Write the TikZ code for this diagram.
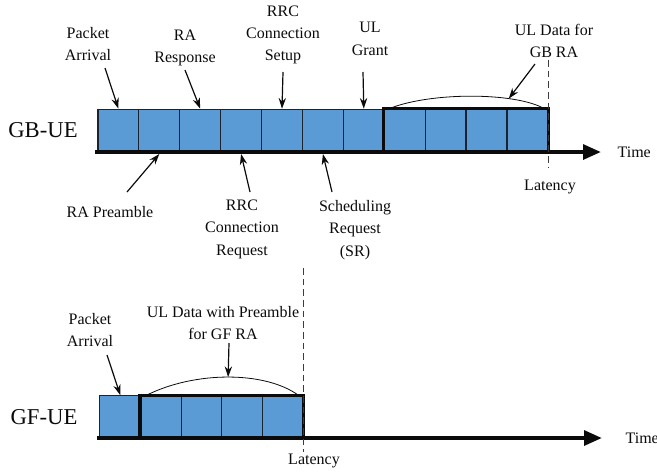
\documentclass[tikz,border=0pt]{standalone}
\usepackage{fontspec}
\setmainfont{Liberation Serif}
\usepackage{tikz}
\usetikzlibrary{arrows.meta,calc,positioning}
\definecolor{azulcaja}{HTML}{5B9BD5}
\definecolor{bordecaja}{HTML}{1A232E}
\definecolor{tinta}{HTML}{0B0B0B}
\tikzset{
  caja/.style={rectangle,draw=bordecaja,fill=azulcaja,line width=0.8pt,inner sep=0pt,minimum width=30.6pt,minimum height=31.2pt},
  marco/.style={draw=tinta,line width=2.3pt},
  eje/.style={draw=tinta,line width=3pt,-{Triangle[length=13.5pt,width=11pt]}},
  flecha/.style={draw=tinta,line width=0.9pt,-{Stealth[length=8pt,width=5.5pt]}},
  arco/.style={draw=tinta,line width=0.6pt},
  latencia/.style={draw=tinta!80,line width=0.6pt,dash pattern=on 5pt off 3pt},
  etiqueta/.style={align=center,inner sep=1pt,text=tinta,font=\fontsize{12}{16.8}\selectfont},
  equipo/.style={inner sep=0pt,text=tinta,font=\fontsize{17}{20}\selectfont},
}
\begin{document}
\begin{tikzpicture}[x=0.75pt,y=-0.75pt]
\useasboundingbox (0,0) rectangle (657,472);
% GB-UE
\node[equipo] (gbue) at (43,130) {GB-UE};
\node[caja] (b1) at (118.4,130) {};
\node[caja] (b2) at (159.3,130) {};
\node[caja] (b3) at (200.2,130) {};
\node[caja] (b4) at (241.1,130) {};
\node[caja] (b5) at (282.0,130) {};
\node[caja] (b6) at (322.9,130) {};
\node[caja] (b7) at (363.8,130) {};
\node[caja] (b8) at (404.7,130) {};
\node[caja] (b9) at (445.6,130) {};
\node[caja] (b10) at (486.5,130) {};
\node[caja] (b11) at (527.4,130) {};
\draw[marco] (b8.north west) rectangle (b11.south east);
\coordinate (ejeGB0) at (95,152);
\coordinate (ejeGB1) at (601,152);
\draw[eje] (ejeGB0) -- (ejeGB1);
\node[etiqueta,anchor=west] (tiempoGB) at (616,152) {Time};
\draw[arco] ([xshift=4pt]b8.north west) .. controls (430,92) and (515,92) .. ([xshift=-3pt]b11.north east) coordinate[pos=0.72] (arcoGB);
\coordinate (latGB0) at (548,60);
\coordinate (latGB1) at (548,167);
\draw[latencia] (latGB0) -- (latGB1);
\node[etiqueta] (latenciaGB) at (550,187) {Latency};
% etiquetas de arriba
\node[etiqueta] (llegadaGB) at (88,44) {Packet\\Arrival};
\node[etiqueta] (respuesta) at (185,48) {RA\\Response};
\node[etiqueta] (conexion) at (283,35) {RRC\\Connection\\Setup};
\node[etiqueta] (concesion) at (370,39) {UL\\Grant};
\node[etiqueta] (datosGB) at (554,41) {UL Data for\\GB RA};
\coordinate (cLlegadaGB) at (105,68);
\coordinate (cRespuesta) at (185,70);
\coordinate (cConexion) at (283,72);
\coordinate (cConcesion) at (363,72);
\coordinate (cDatosGB) at (535,64);
\draw[flecha] (cLlegadaGB) -- (b1.north);
\draw[flecha] (cRespuesta) -- (b3.north);
\draw[flecha] (cConexion) -- (b5.north);
\draw[flecha] (cConcesion) -- (b7.north);
\draw[flecha] (cDatosGB) -- (arcoGB);
% etiquetas de abajo
\node[etiqueta] (preambulo) at (110,212) {RA Preamble};
\node[etiqueta] (solicitud) at (242,229) {RRC\\Connection\\Request};
\node[etiqueta] (planif) at (355,230) {Scheduling\\Request\\(SR)};
\coordinate (cPreambulo) at (127,192);
\coordinate (cSolicitud) at (250,192);
\coordinate (cPlanif) at (332,192);
\draw[flecha] (cPreambulo) -- ([yshift=-2pt]b2.south);
\draw[flecha] (cSolicitud) -- ([yshift=-2pt]b4.south);
\draw[flecha] (cPlanif) -- ([yshift=-2pt]b6.south);
% GF-UE
\node[equipo] (gfue) at (44,417) {GF-UE};
\node[caja] (g1) at (120.3,416.5) {};
\node[caja] (g2) at (160.9,416.5) {};
\node[caja] (g3) at (201.5,416.5) {};
\node[caja] (g4) at (242.1,416.5) {};
\node[caja] (g5) at (282.7,416.5) {};
\draw[marco] (g2.north west) rectangle (g5.south east);
\coordinate (ejeGF0) at (97,438);
\coordinate (ejeGF1) at (602,438);
\draw[eje] (ejeGF0) -- (ejeGF1);
\node[etiqueta,anchor=west] (tiempoGF) at (624,438) {Time};
\draw[arco] ([xshift=5pt]g2.north west) .. controls (195,371) and (265,371) .. ([xshift=-4pt]g5.north east) coordinate[pos=0.5] (arcoGF);
\coordinate (latGF0) at (303,268);
\coordinate (latGF1) at (303,452);
\draw[latencia] (latGF0) -- (latGF1);
\node[etiqueta] (latenciaGF) at (314,461) {Latency};
\node[etiqueta] (llegadaGF) at (90,330) {Packet\\Arrival};
\node[etiqueta] (datosGF) at (223,323) {UL Data with Preamble\\for GF RA};
\coordinate (cLlegadaGF) at (107,355);
\coordinate (cDatosGF) at (229,343);
\draw[flecha] (cLlegadaGF) -- (g1.north);
\draw[flecha] (cDatosGF) -- (arcoGF);
\end{tikzpicture}
\end{document}
